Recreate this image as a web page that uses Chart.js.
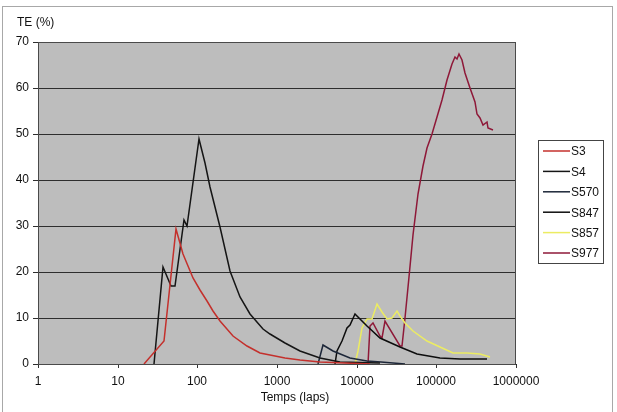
<!DOCTYPE html>
<html>
<head>
<meta charset="utf-8">
<script src="https://cdn.jsdelivr.net/npm/chart.js@4"></script>
<style>
html,body{margin:0;padding:0;background:#fff;}
canvas{display:block;}
</style>
</head>
<body>
<canvas id="c" width="617" height="412"></canvas>
<script>
// ---- data ----
const seriesNames = ["S3", "S4", "S570", "S847", "S857", "S977"];
const xTickValues = [1, 10, 100, 1000, 10000, 100000, 1000000];
const yTickValues = [0, 10, 20, 30, 40, 50, 60, 70];

const s3X = [21.4, 38, 54, 66.6, 77, 89, 108, 131, 159, 192, 283, 417, 611, 816, 1260, 1945, 3470, 7130, 14700];
const s3Y = [0, 5, 29.4, 23.9, 21.2, 18.8, 16, 13.7, 11.5, 9.4, 6.1, 3.9, 2.5, 2.0, 1.4, 0.9, 0.5, 0.2, 0.05];

const s4X = [28.8, 37.4, 46.3, 52.5, 68, 73.5, 106, 125, 144, 192, 257, 343, 458, 673, 816, 1260, 1945, 3470, 6170, 19500];
const s4Y = [0, 21, 17, 16.9, 31.2, 30, 49, 43.6, 38.4, 29.7, 20.3, 14.5, 10.8, 7.6, 6.5, 4.5, 2.8, 1.3, 0.5, 0.2];

const s570X = [3270, 3740, 5080, 8240, 13300, 20000, 40000];
const s570Y = [0, 4.1, 2.8, 1.4, 0.7, 0.4, 0.1];

const s847X = [5350, 5620, 6490, 7500, 8250, 9530, 13300, 19600, 35000, 56600, 111000, 198000, 428000];
const s847Y = [0, 2.9, 5.0, 7.9, 8.4, 10.8, 8.3, 5.7, 3.6, 2.1, 1.4, 1.0, 1.0];

const s857X = [9000, 9500, 10500, 11550, 13350, 15450, 17800, 20600, 23800, 27500, 31700, 35000, 40400, 51300, 75700, 111000, 163000, 218000, 240000, 353000, 471000];
const s857Y = [0, 0, 2.8, 7.9, 9.7, 9.7, 13.0, 11.2, 9.7, 10.1, 11.6, 10.5, 9.0, 7.2, 5.0, 3.6, 2.5, 2.3, 2.5, 2.1, 1.6];

const s977X = [14000, 14700, 15900, 19600, 20600, 22700, 35000, 37000, 40400, 45400, 50900, 58900, 68000, 76300, 87500, 101000, 117000, 135000, 156000, 172000, 183000, 194000, 208000, 229000, 264000, 305000, 321000, 353000, 388000, 428000, 449000, 519000];
const s977Y = [0, 8.3, 9.0, 6.1, 5.6, 9.4, 3.9, 4.0, 10, 19, 28, 37, 43, 47, 50.1, 53.7, 57.3, 61.7, 65.3, 66.8, 66.4, 67.4, 66.1, 63.2, 59.9, 57.0, 54.4, 53.4, 51.9, 52.6, 51.2, 50.9];

const seriesColors = ["#c4302c", "#151515", "#1c2638", "#0d0d0d", "#ecec62", "#8e1838"];

const xs = [s3X, s4X, s570X, s847X, s857X, s977X];
const ys = [s3Y, s4Y, s570Y, s847Y, s857Y, s977Y];

const datasets = seriesNames.map((name, i) => ({
  label: name,
  data: xs[i].map((x, j) => ({x: x, y: ys[i][j]})),
  borderColor: seriesColors[i],
  backgroundColor: seriesColors[i],
  borderWidth: 1.5,
  pointRadius: 0,
  showLine: true,
  tension: 0,
  fill: false
}));

const FONT = '"Liberation Sans", Arial, sans-serif';

const decor = {
  id: 'decor',
  beforeDraw(chart) {
    const ctx = chart.ctx, a = chart.chartArea;
    ctx.save();
    ctx.fillStyle = '#ffffff';
    ctx.fillRect(0, 0, chart.width, chart.height);
    ctx.strokeStyle = '#a8a8a8';
    ctx.lineWidth = 1;
    ctx.strokeRect(2.5, 6.5, 610, 420);
    ctx.fillStyle = '#bdbdbd';
    ctx.fillRect(a.left, a.top, a.right - a.left, a.bottom - a.top);
    ctx.restore();
  },
  afterDraw(chart) {
    const ctx = chart.ctx, a = chart.chartArea;
    ctx.save();
    // plot frame
    ctx.strokeStyle = '#4a4a4a';
    ctx.lineWidth = 1;
    ctx.strokeRect(a.left + 0.5, a.top + 0.5, a.right - a.left - 1, a.bottom - a.top);
    // axis titles
    ctx.fillStyle = '#111';
    ctx.font = '12px ' + FONT;
    ctx.textBaseline = 'middle';
    ctx.textAlign = 'left';
    ctx.fillText('TE (%)', 17, 23);
    ctx.textAlign = 'center';
    ctx.fillText('Temps (laps)', 295, 398);
    // legend
    const bx = 538, by = 140, bw = 65, bh = 123;
    ctx.fillStyle = '#ffffff';
    ctx.fillRect(bx, by, bw, bh);
    ctx.strokeStyle = '#444';
    ctx.strokeRect(bx + 0.5, by + 0.5, bw, bh);
    chart.data.datasets.forEach((ds, i) => {
      const yy = 151 + i * 20.4;
      ctx.strokeStyle = ds.borderColor;
      ctx.lineWidth = 1.5;
      ctx.beginPath();
      ctx.moveTo(543, yy);
      ctx.lineTo(570, yy);
      ctx.stroke();
      ctx.fillStyle = '#111';
      ctx.textAlign = 'left';
      ctx.fillText(ds.label, 571, yy + 1);
    });
    ctx.restore();
  }
};

new Chart(document.getElementById('c'), {
  type: 'scatter',
  data: { datasets: datasets },
  plugins: [decor],
  options: {
    responsive: false,
    animation: false,
    devicePixelRatio: 1,
    layout: { padding: { left: 0, top: 42, right: 101, bottom: 0 } },
    plugins: { legend: { display: false }, tooltip: { enabled: false } },
    scales: {
      x: {
        type: 'logarithmic',
        min: 1, max: 1000000,
        alignToPixels: true,
        afterFit(scale) { scale.height = 48; },
        afterBuildTicks(scale) { scale.ticks = xTickValues.map(v => ({value: v})); },
        ticks: {
          color: '#111',
          font: { family: FONT, size: 12 },
          padding: 6,
          maxRotation: 0,
          autoSkip: false,
          callback: (v) => String(v)
        },
        grid: { drawOnChartArea: false, drawTicks: true, tickLength: 4, color: '#333' },
        border: { display: true, color: '#222', width: 1 }
      },
      y: {
        min: 0, max: 70,
        alignToPixels: true,
        afterFit(scale) { scale.width = 38; },
        afterBuildTicks(scale) { scale.ticks = yTickValues.map(v => ({value: v})); },
        ticks: {
          color: '#111',
          font: { family: FONT, size: 12 },
          padding: 4
        },
        grid: { color: '#2e2e2e', lineWidth: 1, tickLength: 5, drawTicks: true },
        border: { display: true, color: '#333', width: 1 }
      }
    }
  }
});
</script>
</body>
</html>
